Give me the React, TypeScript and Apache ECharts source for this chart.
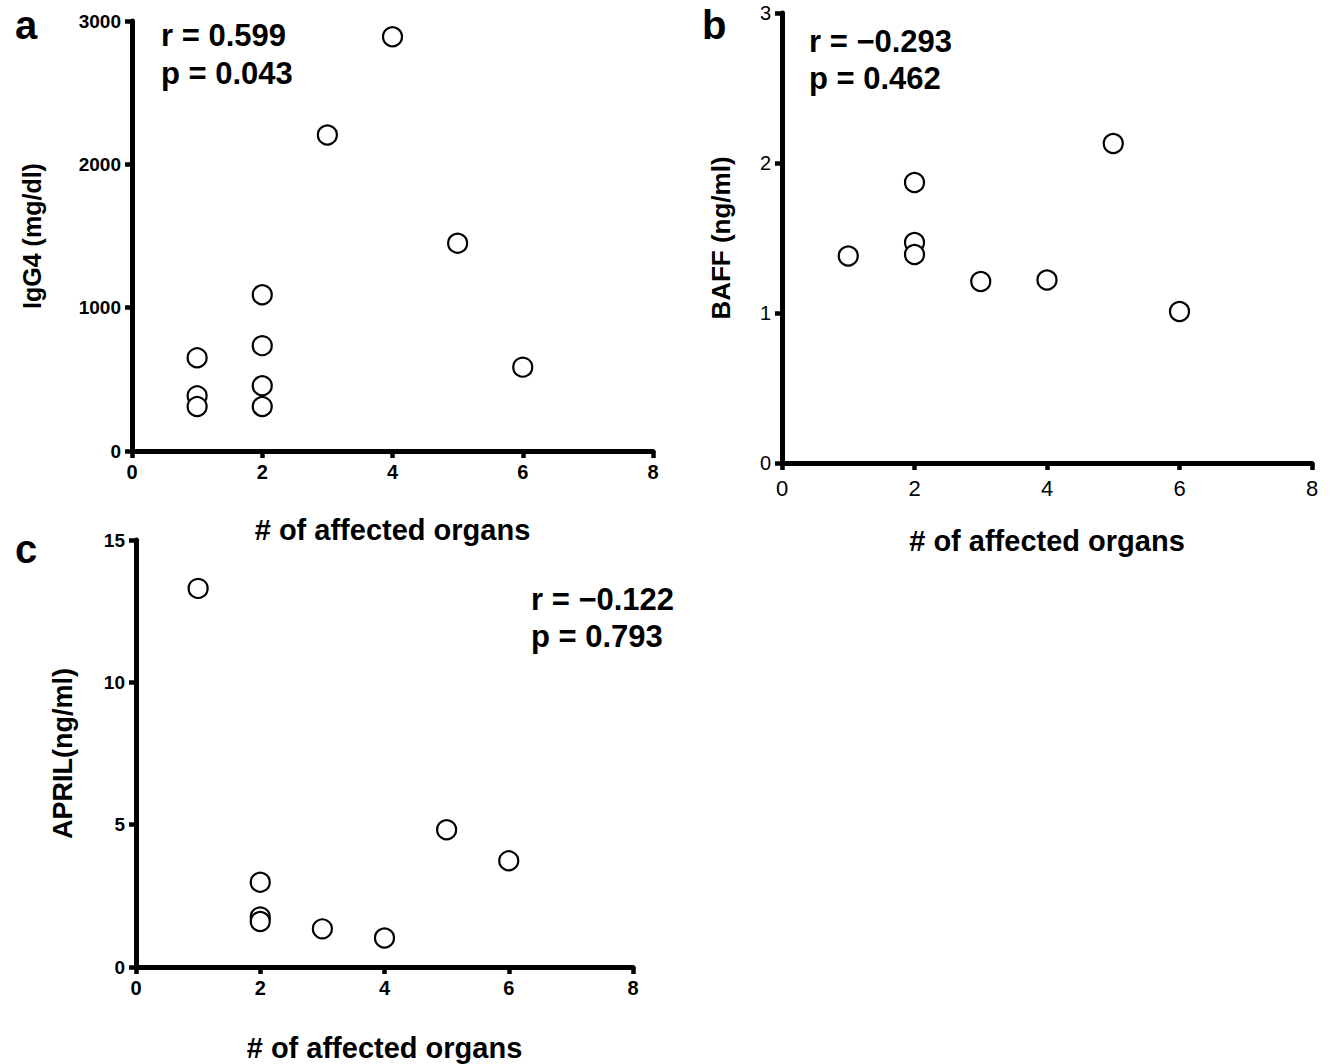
import React, { useEffect, useRef } from "react";
import * as echarts from "echarts";

// Panel a: IgG4 vs number of affected organs
const organsA = [1, 1, 1, 2, 2, 2, 2, 3, 4, 5, 6];
const igg4 = [650, 385, 310, 1090, 735, 455, 310, 2205, 2890, 1450, 585];
// Panel b: BAFF
const organsB = [1, 2, 2, 2, 3, 4, 5, 6];
const baff = [1.38, 1.87, 1.47, 1.39, 1.21, 1.22, 2.13, 1.01];
// Panel c: APRIL
const organsC = [1, 2, 2, 2, 3, 4, 5, 6];
const april = [13.3, 2.98, 1.76, 1.6, 1.34, 1.02, 4.82, 3.73];

const xTitle = "# of affected organs";
const yTitles = ["IgG4 (mg/dl)", "BAFF (ng/ml)", "APRIL(ng/ml)"];
const yMax = [3000, 3, 15];
const yStep = [1000, 1, 5];
const panelLetters = ["a", "b", "c"];
const statsR = ["r = 0.599", "r = \u22120.293", "r = \u22120.122"];
const statsP = ["p = 0.043", "p = 0.462", "p = 0.793"];

const FONT = "'Liberation Sans', Arial, Helvetica, sans-serif";

export default function App() {
  const ref = useRef<HTMLDivElement>(null);
  useEffect(() => {
    if (!ref.current) return;
    const chart = echarts.init(ref.current, null, { renderer: "svg" });

    const grids = [
      { left: 132, top: 21, width: 521, height: 430 },
      { left: 782, top: 13, width: 530, height: 450 },
      { left: 136, top: 540, width: 497, height: 427 },
    ];
    const boldTicks = [true, false, true];
    const xNameGap = [64, 63, 66];
    const yNameGap = [88, 48, 60];
    const yNameSize = [25, 26, 27];

    const xAxes = grids.map((_, i) => ({
      type: "value",
      gridIndex: i,
      min: 0,
      max: 8,
      interval: 2,
      axisLine: { show: true, onZero: false, lineStyle: { color: "#000", width: 5 } },
      axisTick: { show: true, length: 7, lineStyle: { color: "#000", width: 4.5 } },
      splitLine: { show: false },
      axisLabel: {
        color: "#000",
        fontFamily: FONT,
        fontSize: boldTicks[i] ? 20 : 22,
        fontWeight: boldTicks[i] ? "bold" : "normal",
        margin: boldTicks[i] ? 11 : 14,
        formatter: (v: number) => String(v),
      },
      name: xTitle,
      nameLocation: "middle",
      nameGap: xNameGap[i],
      nameTextStyle: { color: "#000", fontFamily: FONT, fontSize: 29, fontWeight: "bold" },
    }));

    const yAxes = grids.map((_, i) => ({
      type: "value",
      gridIndex: i,
      min: 0,
      max: yMax[i],
      interval: yStep[i],
      axisLine: { show: true, onZero: false, lineStyle: { color: "#000", width: 5 } },
      axisTick: { show: true, length: 7, lineStyle: { color: "#000", width: 4.5 } },
      splitLine: { show: false },
      axisLabel: {
        color: "#000",
        fontFamily: FONT,
        fontSize: boldTicks[i] ? 19 : 20,
        fontWeight: boldTicks[i] ? "bold" : "normal",
        margin: 11,
        formatter: (v: number) => String(v),
      },
      name: yTitles[i],
      nameLocation: "middle",
      nameGap: yNameGap[i],
      nameTextStyle: { color: "#000", fontFamily: FONT, fontSize: yNameSize[i], fontWeight: "bold" },
    }));

    const mk = (xs: number[], ys: number[]) => xs.map((x, k) => [x, ys[k]]);
    const datasets = [mk(organsA, igg4), mk(organsB, baff), mk(organsC, april)];

    const series = datasets.map((d, i) => ({
      type: "scatter",
      xAxisIndex: i,
      yAxisIndex: i,
      data: d,
      symbol: "circle",
      symbolSize: 19,
      itemStyle: { color: "#fff", borderColor: "#000", borderWidth: 2.2, opacity: 1 },
      emphasis: { disabled: true },
      clip: false,
    }));

    const letterPos = [
      [15, 25],
      [702, 25],
      [15, 549],
    ];
    const statPos = [
      [161, 35, 73],
      [809, 41, 78],
      [531, 599, 636],
    ];
    const graphic: any[] = [];
    panelLetters.forEach((t, i) => {
      graphic.push({
        type: "text",
        x: letterPos[i][0],
        y: letterPos[i][1],
        style: {
          text: t,
          fill: "#000",
          fontFamily: FONT,
          fontSize: 40,
          fontWeight: "bold",
          align: "left",
          verticalAlign: "middle",
        },
      });
      [statsR[i], statsP[i]].forEach((s, j) => {
        graphic.push({
          type: "text",
          x: statPos[i][0],
          y: statPos[i][1 + j],
          style: {
            text: s,
            fill: "#000",
            fontFamily: FONT,
            fontSize: 31,
            fontWeight: "bold",
            align: "left",
            verticalAlign: "middle",
          },
        });
      });
    });

    chart.setOption({
      animation: false,
      backgroundColor: "#fff",
      grid: grids,
      xAxis: xAxes,
      yAxis: yAxes,
      series,
      graphic,
    } as any);

    return () => chart.dispose();
  }, []);

  return (
    <div
      ref={ref}
      style={{ position: "fixed", left: 0, top: 0, width: 1332, height: 1064, background: "#fff" }}
    />
  );
}
